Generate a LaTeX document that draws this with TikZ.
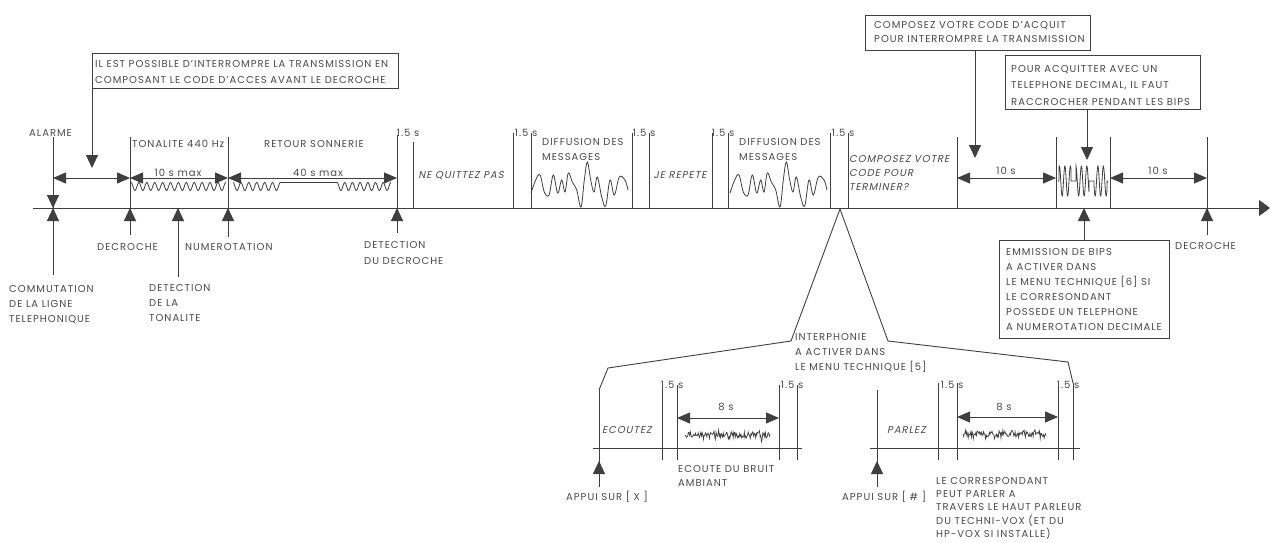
\documentclass[tikz,border=0pt]{standalone}
\usepackage{fontspec}
\setmainfont{Poppins}[LetterSpace=10,ItalicFont=Poppins,ItalicFeatures={FakeSlant=0.2}]
\usetikzlibrary{arrows.meta}
\definecolor{ln}{HTML}{3F3F3F}
\definecolor{tx}{HTML}{4A4A4A}
\tikzset{
 ln/.style={draw=ln,line width=0.9pt},
 lbl/.style={text=tx,inner sep=0pt,align=left,font=\fontsize{10}{15}\selectfont},
 itl/.style={lbl,font=\fontsize{10}{15}\selectfont\itshape},
 tipst/.style={-{Triangle[length=13pt,width=12pt]}},
 dimst/.style={{Triangle[length=13pt,width=11pt]}-{Triangle[length=13pt,width=11pt]}},
 boxst/.style={draw=ln,line width=0.9pt,inner sep=0pt,anchor=north west},
 wave/.style={draw=ln,line width=0.8pt},
}
\newcommand\mlnode[6]{\node[lbl,anchor=north west,font=\fontsize{10}{#4}\selectfont#6] (#1) at (#2,{#3-0.7*#4}) {\strut #5};}
\newcommand\onefive[3]{\node[lbl,anchor=base east] (#1) at ({#2+6.5},#3) {1.5 s};}
\newcommand\diffwave{\draw[wave] plot[smooth,tension=0.6] coordinates {(531,193) (535.7,180) (540,175) (544.3,192) (549,195) (553.3,175) (557.7,193) (561.7,180) (565,192) (568.3,173) (572.3,182) (576.7,190) (581,207) (584.3,180) (587.3,162) (590.7,180) (594,192) (597.3,177) (601.7,197) (605.7,206) (610,180) (614.3,195) (619.3,177) (625,180) (628,190)};}
\begin{document}
\begin{tikzpicture}[x=1pt,y=-1pt]
\fill[white] (0,0) rectangle (1271,543);
\useasboundingbox (0,0) rectangle (1271,543);

% ---------- main axis ----------
\coordinate (a0) at (33,208);
\coordinate (a1) at (1270,208);
\draw[ln,-{Triangle[length=11pt,width=16pt]}] (a0) -- (a1);

% tick points on the axis
\coordinate (tAl) at (53,208);
\coordinate (tDec) at (130,208);
\coordinate (tTon) at (178,208);
\coordinate (tNum) at (228,208);
\coordinate (tDet) at (397,208);
\coordinate (tBip) at (1084,208);
\coordinate (tDec2) at (1207,208);
\coordinate (tZoom) at (840,209);

% vertical lines
\foreach \x/\t/\b in {53/137/275,130/137/235,228/137/237,397/135/233,413/142/208,
  513/133/208,531/133/208,632/133/208,649/133/208,712/133/208,728/133/208,830/133/208,848/133/208,
  957/137/208,1056/137/208,1110/137/208,1207/137/235}
  \draw[ln] (\x,\t) -- (\x,\b);
\draw[ln] (178,208) -- (178,277);

% up arrows to the axis
\foreach \n in {tAl,tDec,tTon,tNum,tDet,tDec2}
  \draw[ln,tipst] ([yshift=-22pt]\n) -- (\n);
% down arrow of ALARME
\draw[ln,tipst] ([yshift=18pt]tAl) -- (tAl);

% dimension arrows
\draw[ln,dimst] (53,178) -- (130,178);
\draw[ln,dimst] (130,178) -- (228,178);
\draw[ln,dimst] (228,178) -- (397,178);
\draw[ln,dimst] (957,178) -- (1056,178);
\draw[ln,dimst] (1110,178) -- (1207,178);

% ---------- waveforms ----------
\draw[wave] plot[domain=131:226,samples=160] (\x,{186.5-4*cos((\x-131)/7.9*360)});
\draw[wave] plot[domain=233:280.4,samples=90] (\x,{186.5-4*cos((\x-233)/7.9*360)}) -- (337,182.5)
  -- plot[domain=337:391,samples=100] (\x,{186.5-4*cos((\x-337)/7.7*360)});
\diffwave
\begin{scope}[xshift=199pt]\diffwave\end{scope}
\draw[wave] plot[domain=1058:1108,samples=400] (\x,{181-15*sin((\x-1058)/5.5*360)*((\x>1059)*(\x<1071)+(\x>1076)*(\x<1089)+(\x>1094)*(\x<1107))});

% ---------- boxes ----------
\node[boxst,minimum width=306pt,minimum height=35pt] (box1) at (92,53) {};
\mlnode{box1t}{95}{67}{16}{IL EST POSSIBLE D'INTERROMPRE LA TRANSMISSION EN\\COMPOSANT LE CODE D'ACCES AVANT LE DECROCHE}{}
\draw[ln,tipst] (box1.south west) -- (92,168);

\node[boxst,minimum width=225pt,minimum height=35pt] (box2) at (865,15) {};
\mlnode{box2t}{874}{28}{14}{COMPOSEZ VOTRE CODE D'ACQUIT\\POUR INTERROMPRE LA TRANSMISSION}{}
\draw[ln,tipst] (box2.south west) ++(110,0) coordinate (b2l) -- (975,158);

\node[boxst,minimum width=195pt,minimum height=54pt] (box3) at (1005,55) {};
\mlnode{box3t}{1011}{72}{16.5}{POUR ACQUITTER AVEC UN\\TELEPHONE DECIMAL, IL FAUT\\RACCROCHER PENDANT LES BIPS}{}
\draw[ln,tipst] (box3.south west) ++(82,0) coordinate (b3l) -- (1087,160);

\node[boxst,minimum width=170pt,minimum height=98pt] (bipsbox) at (999,240) {};
\mlnode{bipst}{1006}{255}{15}{EMMISSION DE BIPS\\A ACTIVER DANS\\LE MENU TECHNIQUE [6] SI\\LE CORRESONDANT\\POSSEDE UN TELEPHONE\\A NUMEROTATION DECIMALE}{}
\draw[ln,tipst] (tBip |- bipsbox.north) -- (tBip);

% ---------- top labels ----------
\node[lbl,anchor=base west] (lAl) at (29,136) {ALARME};
\node[lbl,anchor=base west] (lTon) at (132,147) {TONALITE 440 Hz};
\node[lbl,anchor=base west] (lRet) at (264,147) {RETOUR SONNERIE};
\node[lbl,anchor=base] (l10m) at (178,176) {10 s max};
\node[lbl,anchor=base] (l40m) at (318,176) {40 s max};
\onefive{o1}{413}{136}
\onefive{o2}{531}{136}
\onefive{o3}{649}{136}
\onefive{o4}{728}{136}
\onefive{o5}{848}{136}
\node[itl,anchor=base] (lNe) at (461,178) {NE QUITTEZ PAS};
\mlnode{lDif1}{542}{145}{15}{DIFFUSION DES\\MESSAGES}{}
\node[itl,anchor=base] (lRep) at (680,178) {JE REPETE};
\mlnode{lDif2}{739}{145}{15}{DIFFUSION DES\\MESSAGES}{}
\mlnode{lComp}{849}{162}{14}{COMPOSEZ VOTRE\\CODE POUR\\TERMINER?}{\itshape}
\node[lbl,anchor=base] (l10a) at (1006,174) {10 s};
\node[lbl,anchor=base] (l10b) at (1158,174) {10 s};

% ---------- bottom labels ----------
\node[lbl,anchor=base west] (lDec) at (97,250) {DECROCHE};
\node[lbl,anchor=base west] (lNum) at (185,250) {NUMEROTATION};
\mlnode{lDetD}{364}{248}{16}{DETECTION\\DU DECROCHE}{}
\mlnode{lCom}{9}{292}{15}{COMMUTATION\\DE LA LIGNE\\TELEPHONIQUE}{}
\mlnode{lDetT}{149}{291}{15}{DETECTION\\DE LA\\TONALITE}{}
\node[lbl,anchor=base west] (lDec2) at (1175,249) {DECROCHE};

% ---------- zoom of the interphone ----------
\draw[ln] (tZoom) -- (791,341) -- (608,368) -- (599,390);
\draw[ln] (tZoom) -- (888,341) -- (1068,362) -- (1073,383);
\mlnode{lInt}{795}{340}{15}{INTERPHONIE\\A ACTIVER DANS\\LE MENU TECHNIQUE [5]}{}

% sub-timeline ECOUTEZ
\draw[ln] (593,448) -- (802,448);
\draw[ln] (599,390) -- (599,487);
\draw[ln,tipst] (599,487) -- (599,461);
\foreach \x in {662,677,779,797} \draw[ln] (\x,385) -- (\x,460);
\draw[ln,dimst] (677,418) -- (779,418);
\onefive{o6}{677}{388}
\onefive{o7}{797}{388}
\node[itl,anchor=base west] (lEco) at (602,433) {ECOUTEZ};
\node[lbl,anchor=base] (l8a) at (726,410) {8 s};
\pgfmathsetseed{3}
\draw[wave,line width=0.7pt] plot[domain=685:770,samples=130] (\x,{435+3*rand+7*rand*rand*rand});
\mlnode{lEcoB}{678}{472}{14}{ECOUTE DU BRUIT\\AMBIANT}{}
\node[lbl,anchor=base west] (lApX) at (566,500) {APPUI SUR [ X ]};

% sub-timeline PARLEZ
\draw[ln] (870,448) -- (1080,448);
\draw[ln] (877,390) -- (877,487);
\draw[ln,tipst] (877,487) -- (877,461);
\foreach \x in {938,957,1058,1073} \draw[ln] (\x,383) -- (\x,460);
\draw[ln,dimst] (957,417) -- (1058,417);
\onefive{o8}{957}{388}
\onefive{o9}{1073}{388}
\node[itl,anchor=base west] (lPar) at (887,433) {PARLEZ};
\node[lbl,anchor=base] (l8b) at (1004,410) {8 s};
\pgfmathsetseed{11}
\draw[wave,line width=0.7pt] plot[domain=963:1046,samples=130] (\x,{434+3*rand+7*rand*rand*rand});
\node[lbl,anchor=base west] (lApD) at (842,500) {APPUI SUR [ \# ]};
\mlnode{lCor}{936}{484}{13.3}{LE CORRESPONDANT\\PEUT PARLER A\\TRAVERS LE HAUT PARLEUR\\DU TECHNI-VOX (ET DU\\HP-VOX SI INSTALLE)}{}
\end{tikzpicture}
\end{document}
